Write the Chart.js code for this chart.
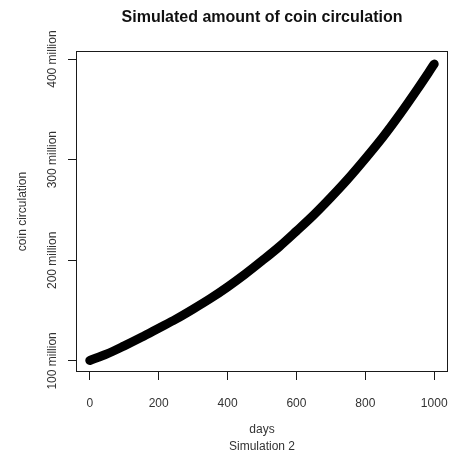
<!DOCTYPE html>
<html>
<head>
<meta charset="utf-8">
<title>Simulated amount of coin circulation</title>
<script src="https://cdn.jsdelivr.net/npm/chart.js@4/dist/chart.umd.min.js"></script>
<style>
  html, body { margin: 0; padding: 0; background: #ffffff; }
  #wrap { width: 451px; height: 460px; }
</style>
</head>
<body>
<div id="wrap"><canvas id="chart" width="451" height="460"></canvas></div>
<script>
// Simulation 2: coins in circulation (millions) sampled every 50 days
const days = [0, 50, 100, 150, 200, 250, 300, 350, 400, 450, 500,
              550, 600, 650, 700, 750, 800, 850, 900, 950, 1000];
const circulationMillions = [100.5, 107, 115, 123.5, 132.5, 141.5, 151.5, 162, 173.5, 186, 199.5,
                             213.5, 229, 245, 262.5, 281, 301, 322, 345, 369.5, 395];

const xTicks = [0, 200, 400, 600, 800, 1000];
const yTicks = [100, 150, 200, 250, 300, 350, 400];
const yTickLabels = { 100: '100 million', 200: '200 million', 300: '300 million', 400: '400 million' };

const FONT = '"Liberation Sans", Arial, Helvetica, sans-serif';
const INK = '#1a1a1a';

// Box round the plotting region
const frame = {
  id: 'frame',
  afterDatasetsDraw(chart) {
    const { ctx, chartArea: a } = chart;
    ctx.save();
    ctx.strokeStyle = INK;
    ctx.lineWidth = 1;
    ctx.strokeRect(Math.round(a.left) + 0.5, Math.round(a.top) + 0.5,
                   Math.round(a.right - a.left) - 1, Math.round(a.bottom - a.top) - 1);
    ctx.restore();
  }
};

// Fixed margins: the axes keep their set size and ask for no extra room
function fixSize(prop, size) {
  return scale => {
    scale[prop] = size;
    scale.paddingLeft = 0;
    scale.paddingRight = 0;
    scale.paddingTop = 0;
    scale.paddingBottom = 0;
  };
}

new Chart(document.getElementById('chart'), {
  type: 'scatter',
  data: {
    datasets: [{
      data: days.map((d, i) => ({ x: d, y: circulationMillions[i] })),
      showLine: true,
      borderColor: '#000000',
      backgroundColor: '#000000',
      borderWidth: 9,
      borderCapStyle: 'round',
      borderJoinStyle: 'round',
      cubicInterpolationMode: 'monotone',
      pointRadius: 0,
      pointHoverRadius: 0
    }]
  },
  options: {
    responsive: false,
    animation: false,
    events: [],
    layout: { padding: { left: 0, right: 3, top: 0, bottom: 0 } },
    plugins: {
      legend: { display: false },
      tooltip: { enabled: false },
      title: {
        display: true,
        fullSize: false,
        text: 'Simulated amount of coin circulation',
        color: '#111111',
        font: { family: FONT, size: 16, weight: 'bold', lineHeight: 1.2 },
        padding: { top: 8, bottom: 23.8 }
      }
    },
    scales: {
      x: {
        type: 'linear',
        min: -40,
        max: 1040,
        afterFit: fixSize('height', 88),
        afterBuildTicks(scale) { scale.ticks = xTicks.map(v => ({ value: v })); },
        grid: { display: true, drawOnChartArea: false, drawTicks: true, tickLength: 8, color: INK, lineWidth: 1 },
        border: { display: false },
        ticks: {
          color: '#333333',
          font: { family: FONT, size: 12 },
          padding: 16,
          maxRotation: 0,
          minRotation: 0,
          callback: v => String(v)
        },
        title: {
          display: true,
          text: ['days', 'Simulation 2'],
          color: '#333333',
          font: { family: FONT, size: 12, lineHeight: 1.4 },
          padding: { top: 0, bottom: 5 }
        }
      },
      y: {
        type: 'linear',
        min: 89,
        max: 408,
        afterFit: fixSize('width', 76),
        afterBuildTicks(scale) { scale.ticks = yTicks.map(v => ({ value: v })); },
        grid: { display: true, drawOnChartArea: false, drawTicks: true, tickLength: 8, color: INK, lineWidth: 1 },
        border: { display: false },
        ticks: {
          color: '#333333',
          font: { family: FONT, size: 12 },
          minRotation: 90,
          maxRotation: 90,
          crossAlign: 'center',
          padding: -13,
          callback: v => yTickLabels[v] || ''
        },
        title: {
          display: true,
          text: 'coin circulation',
          color: '#333333',
          font: { family: FONT, size: 12, lineHeight: 1.2 },
          padding: { top: 15, bottom: 0 }
        }
      }
    }
  },
  plugins: [frame]
});
</script>
</body>
</html>
